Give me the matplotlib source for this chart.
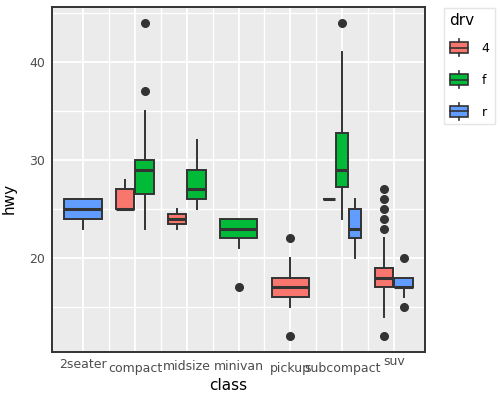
import matplotlib
matplotlib.use("Agg")
import matplotlib.pyplot as plt
from matplotlib.legend_handler import HandlerBase
from matplotlib.patches import Rectangle, Patch
from matplotlib.lines import Line2D
from matplotlib.transforms import ScaledTranslation

# values
classes = ["2seater", "compact", "midsize", "minivan", "pickup", "subcompact", "suv"]
drvs = ["4", "f", "r"]
drv_colors = {"4": "#F8766D", "f": "#00BA38", "r": "#619CFF"}

# (class, drv): [whislo, q1, med, q3, whishi], fliers
stats_2seater_r = [23, 24, 25, 26, 26]
stats_compact_4 = [25, 25, 25, 27, 28]
stats_compact_f = [23, 26.5, 29, 30, 35]
stats_midsize_4 = [23, 23.5, 24, 24.5, 25]
stats_midsize_f = [25, 26, 27, 29, 32]
stats_minivan_f = [21, 22, 23, 24, 24]
stats_pickup_4 = [15, 16, 17, 18, 20]
stats_subcompact_4 = [26, 26, 26, 26, 26]
stats_subcompact_f = [24, 27.25, 29, 32.75, 41]
stats_subcompact_r = [20, 22, 23, 25, 26]
stats_suv_4 = [14, 17, 18, 19, 22]
stats_suv_r = [16, 17, 17, 18, 18]

groups = [
    ("2seater", "r", stats_2seater_r, []),
    ("compact", "4", stats_compact_4, []),
    ("compact", "f", stats_compact_f, [37, 44]),
    ("midsize", "4", stats_midsize_4, []),
    ("midsize", "f", stats_midsize_f, []),
    ("minivan", "f", stats_minivan_f, [17]),
    ("pickup", "4", stats_pickup_4, [12, 22]),
    ("subcompact", "4", stats_subcompact_4, []),
    ("subcompact", "f", stats_subcompact_f, [44]),
    ("subcompact", "r", stats_subcompact_r, []),
    ("suv", "4", stats_suv_4, [12, 23, 24, 25, 26, 27]),
    ("suv", "r", stats_suv_r, [15, 20]),
]

edge = "#333333"

fig = plt.figure(figsize=(5, 4), dpi=100)
ax = fig.add_axes([0.104, 0.12, 0.746, 0.8625])
ax.set_facecolor("#EBEBEB")

total_w = 0.76
for ci, cls in enumerate(classes):
    sub = [g for g in groups if g[0] == cls]
    n = len(sub)
    slot = total_w / n
    for k, (c, d, s, fl) in enumerate(sub):
        pos = ci + 1 - total_w / 2 + slot * (k + 0.5)
        st = dict(whislo=s[0], q1=s[1], med=s[2], q3=s[3], whishi=s[4], fliers=fl)
        ax.bxp([st], positions=[pos], widths=slot * 0.95, patch_artist=True,
               showcaps=False,
               boxprops=dict(facecolor=drv_colors[d], edgecolor=edge, linewidth=1.4),
               medianprops=dict(color=edge, linewidth=2.2),
               whiskerprops=dict(color=edge, linewidth=1.4),
               flierprops=dict(marker="o", markerfacecolor=edge, markeredgecolor=edge,
                               markersize=5.5))

ax.set_xlim(0.4, 7.6)
ax.set_ylim(10.4, 45.6)
ax.set_xticks(range(1, len(classes) + 1))
ax.set_xticklabels(classes)
ax.set_xticks([1.5, 2.5, 3.5, 4.5, 5.5, 6.5], minor=True)
ax.set_yticks([20, 30, 40])
ax.set_yticks([15, 25, 35, 45], minor=True)
ax.grid(which="major", color="white", linewidth=1.3)
ax.grid(which="minor", color="white", linewidth=1.0)
ax.set_axisbelow(True)
ax.tick_params(which="both", length=0, labelsize=9, labelcolor="#4D4D4D")
ax.tick_params(axis="x", pad=4.5)
ax.tick_params(axis="y", pad=5)
for sp in ax.spines.values():
    sp.set_color(edge)
    sp.set_linewidth(1.4)

# label offsets (pixels) like the reference
offs = [0, 4, 2, 2, 4, 4, -3]
for lab, o in zip(ax.get_xticklabels(), offs):
    lab.set_transform(lab.get_transform() + ScaledTranslation(0, -o / 100, fig.dpi_scale_trans))

ax.set_xlabel("class", fontsize=11)
ax.set_ylabel("hwy", fontsize=11)
ax.xaxis.set_label_coords(0.472, -0.075)
ax.yaxis.set_label_coords(-0.094, 0.445)


class BoxHandler(HandlerBase):
    def create_artists(self, legend, orig, xd, yd, width, height, fontsize, trans):
        fc = orig.get_facecolor()
        cx = xd + width / 2
        cy = yd + height / 2
        bw = 13.0
        bh = 8.0
        x0, y0 = cx - bw / 2, cy - bh / 2
        r = Rectangle((x0, y0), bw, bh, facecolor=fc, edgecolor=edge, lw=1.2, transform=trans)
        m = Line2D([x0, x0 + bw], [cy, cy], color=edge, lw=1.2, transform=trans)
        w1 = Line2D([cx, cx], [cy - 6.2, y0], color=edge, lw=1.2, transform=trans)
        w2 = Line2D([cx, cx], [y0 + bh, cy + 6.2], color=edge, lw=1.2, transform=trans)
        return [r, m, w1, w2]


handles = [Patch(facecolor=drv_colors[d], label=d) for d in drvs]
leg = fig.legend(handles=handles, labels=drvs, title="drv", loc="upper left",
                 bbox_to_anchor=(0.876, 0.995), fontsize=9, title_fontsize=11,
                 handler_map={Patch: BoxHandler()}, handlelength=1.6,
                 labelspacing=1.5, handletextpad=1.0, borderpad=0.4,
                 fancybox=False, edgecolor="#E5E5E5", framealpha=1)
leg._legend_box.align = "left"
leg._legend_box.sep = 10

fig.savefig("out.png", dpi=100)
